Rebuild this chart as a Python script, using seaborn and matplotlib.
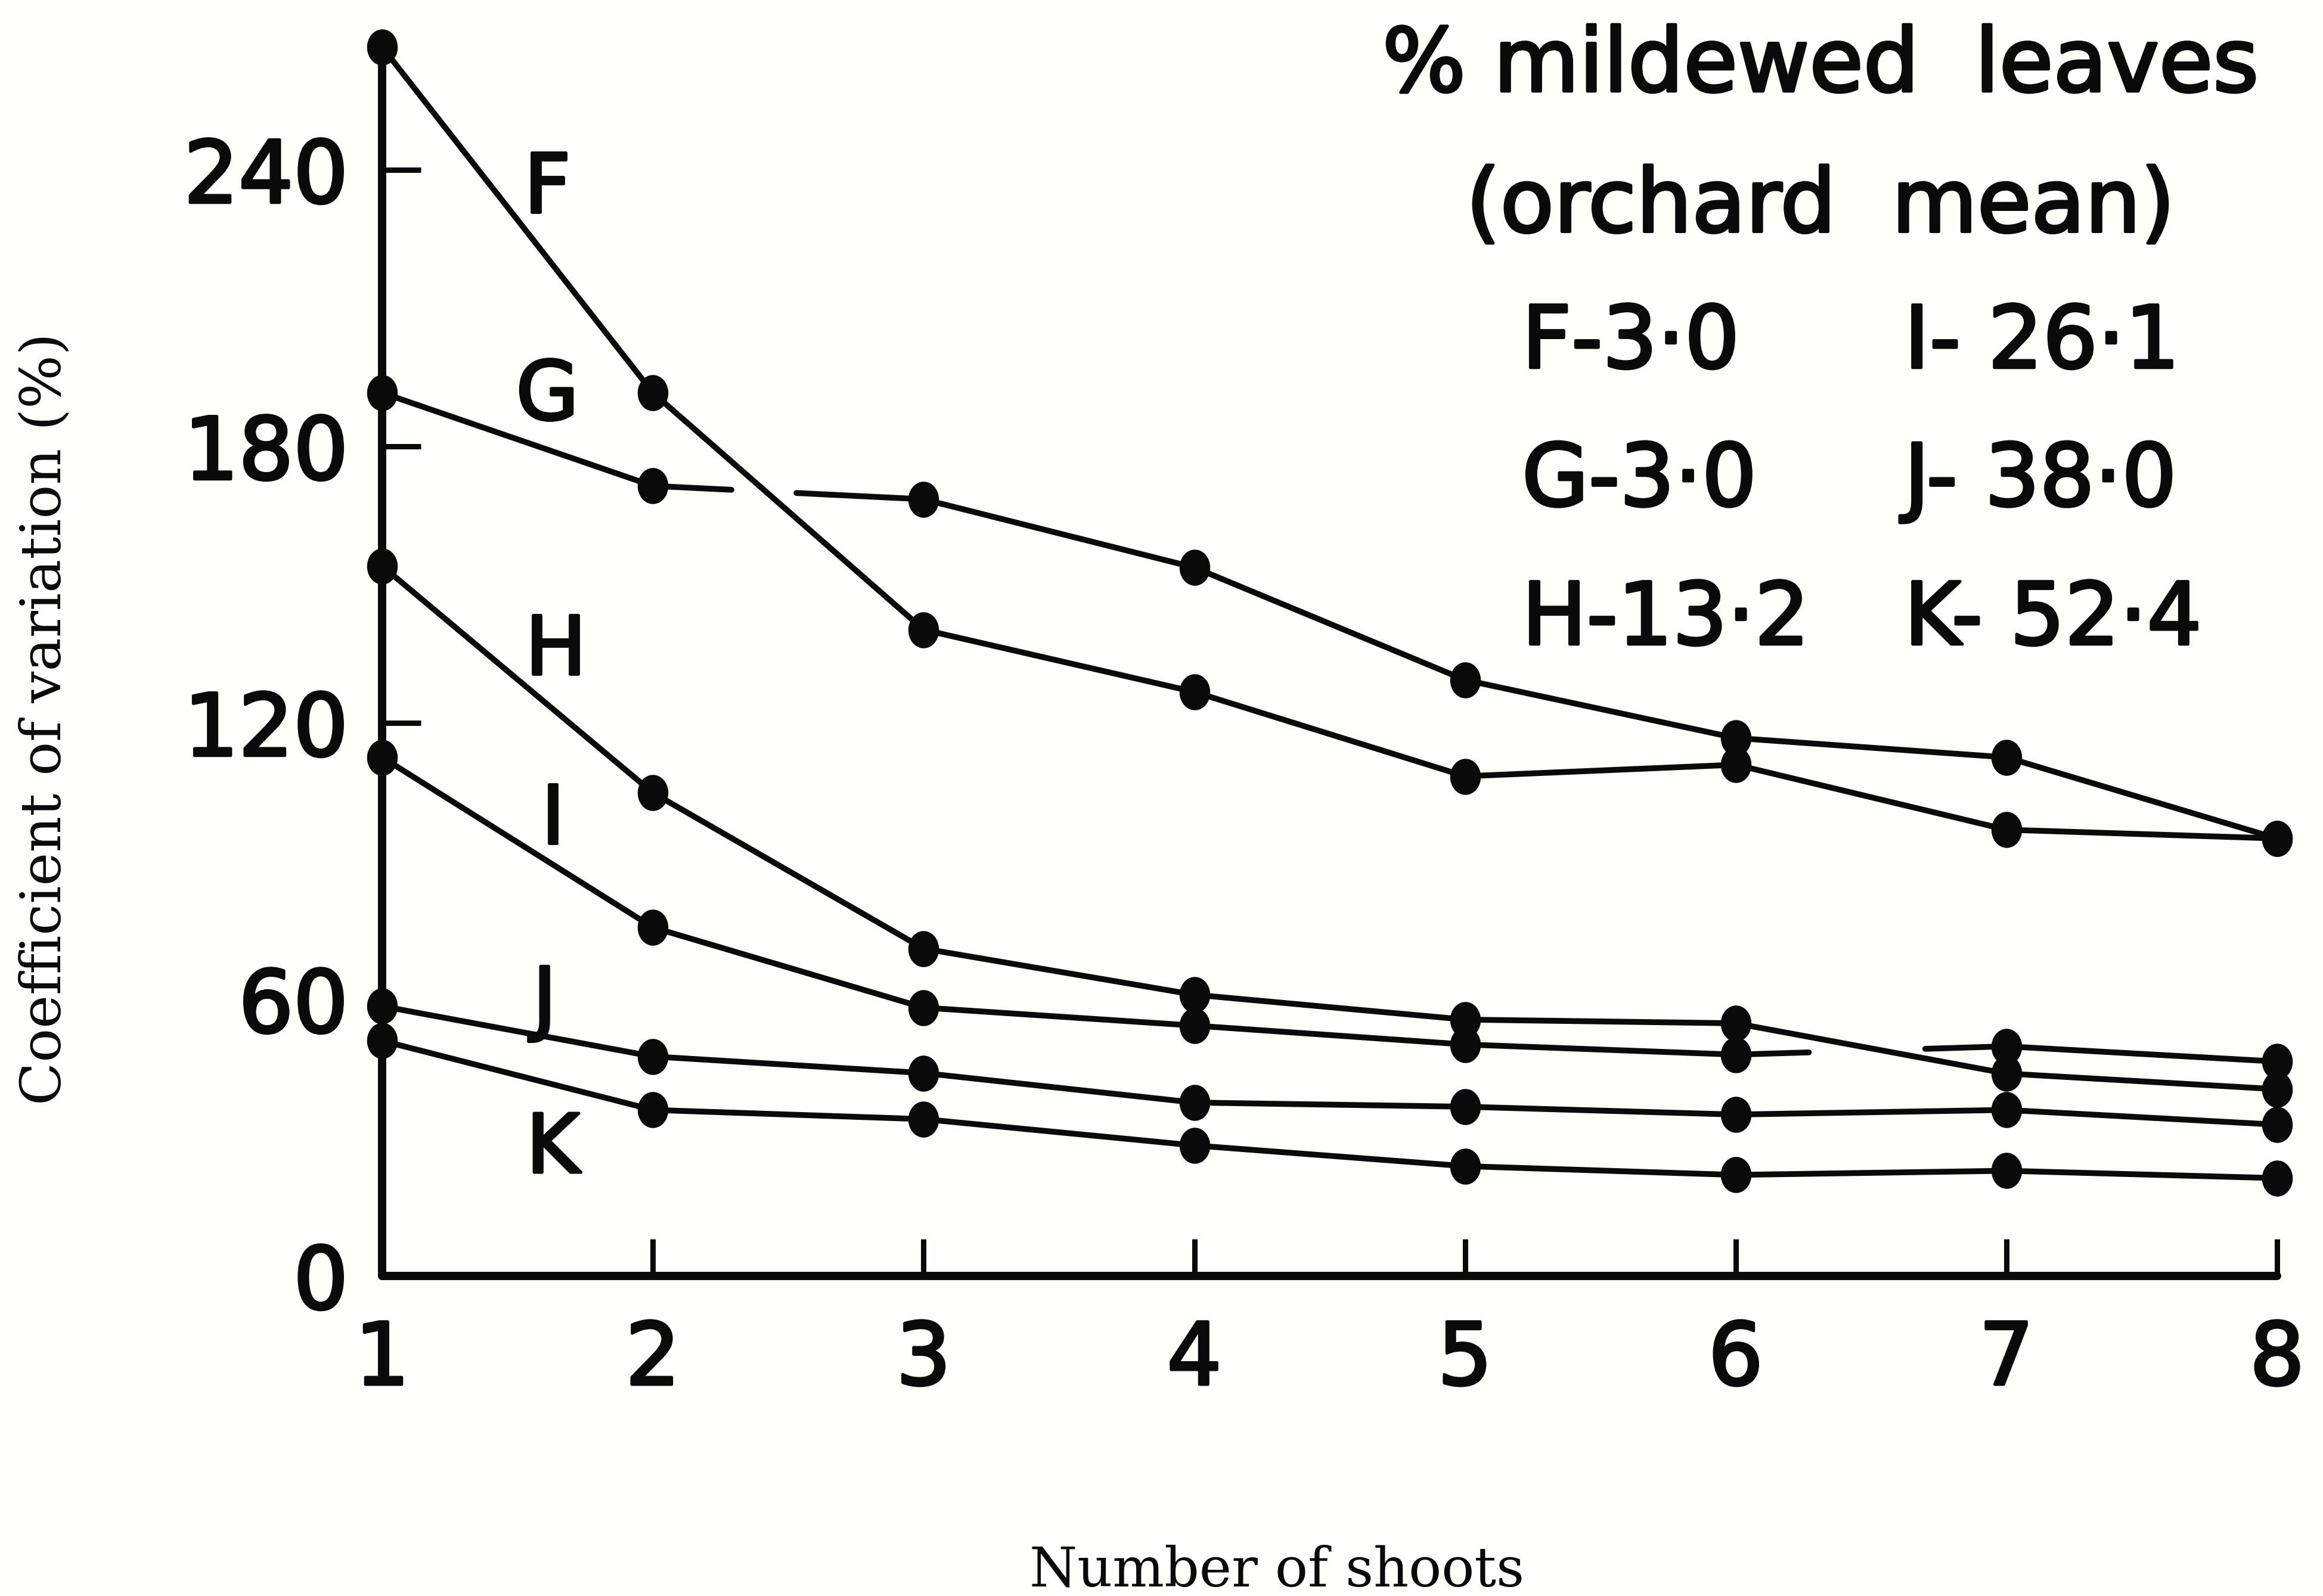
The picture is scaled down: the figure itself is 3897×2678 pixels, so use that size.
import numpy as np
import pandas as pd
import matplotlib
matplotlib.use("Agg")
import matplotlib.pyplot as plt
import matplotlib.patheffects as pe
from matplotlib.path import Path
import seaborn as sns

# ---------------- data ----------------
shoots = [1, 2, 3, 4, 5, 6, 7, 8]
cv_F = [266.6, 191.6, 140.2, 126.7, 108.4, 110.9, 96.8, 94.9]
cv_G = [191.6, 171.4, 168.5, 153.7, 129.3, 116.7, 112.5, 94.9]
cv_H = [154.0, 104.8, 71.0, 61.0, 55.6, 54.8, 43.9, 40.5]
cv_I = [112.5, 75.6, 58.2, 54.3, 50.2, 48.0, 49.8, 46.5]
cv_J = [58.5, 47.6, 44.0, 37.6, 36.7, 35.0, 36.0, 32.8]
cv_K = [51.0, 36.0, 34.0, 28.3, 23.8, 21.9, 22.8, 21.2]
orchards = ["F", "G", "H", "I", "J", "K"]
mildew_means = ["3·0", "3·0", "13·2", "26·1", "38·0", "52·4"]
y_ticks = [0, 60, 120, 180, 240]
x_ticks = shoots

series = dict(zip(orchards, [cv_F, cv_G, cv_H, cv_I, cv_J, cv_K]))

# ---------------- style ----------------
sns.set_theme(style="white")
plt.rcParams["font.family"] = ["DejaVu Sans"]
BG = "#fefefa"
INK = "#0a0a0a"
thick = [pe.withStroke(linewidth=3.5, foreground=INK)]

fig = plt.figure(figsize=(38.98, 26.78), dpi=100, facecolor=BG)
ax = fig.add_axes([0.1645, 0.2006, 0.8155, 0.7739])
ax.set_facecolor(BG)

# line breaks where another curve passes over (segment index, start, end fraction)
gaps = {"G": (1, 0.29, 0.53), "I": (5, 0.27, 0.70)}

for name in orchards:
    xs = np.array(shoots, float)
    ys = np.array(series[name], float)
    pieces = []
    if name in gaps:
        i, t0, t1 = gaps[name]
        xa = xs[i] + t0 * (xs[i + 1] - xs[i]); ya = ys[i] + t0 * (ys[i + 1] - ys[i])
        xb = xs[i] + t1 * (xs[i + 1] - xs[i]); yb = ys[i] + t1 * (ys[i + 1] - ys[i])
        pieces.append((np.r_[xs[:i + 1], xa], np.r_[ys[:i + 1], ya]))
        pieces.append((np.r_[xb, xs[i + 1:]], np.r_[yb, ys[i + 1:]]))
    else:
        pieces.append((xs, ys))
    for px, py in pieces:
        sns.lineplot(x=px, y=py, ax=ax, color=INK, lw=7, sort=False,
                     estimator=None, solid_capstyle="round", zorder=3)

long_df = pd.DataFrame(
    [(s, v, n) for n in orchards for s, v in zip(shoots, series[n])],
    columns=["shoots", "cv", "orchard"])

t = np.linspace(0, 2 * np.pi, 80)
ellipse = Path(np.c_[0.85 * np.cos(t), np.sin(t)], closed=True)
sns.scatterplot(data=long_df, x="shoots", y="cv", ax=ax, color=INK,
                marker=ellipse, s=1900, edgecolor=INK, linewidth=0,
                zorder=5, clip_on=False, legend=False)

# curve letters
label_pos = {"F": (1.61, 235.7), "G": (1.61, 190.7), "H": (1.64, 135.4),
             "I": (1.63, 98.7), "J": (1.60, 59.2), "K": (1.63, 27.3)}
for n in orchards:
    x, y = label_pos[n]
    ax.text(x, y, n, fontsize=98, ha="center", va="center", color=INK,
            path_effects=thick)

# axes
ax.set_xlim(1, 8)
ax.set_ylim(0, 268)
for side in ["top", "right"]:
    ax.spines[side].set_visible(False)
for side in ["left", "bottom"]:
    ax.spines[side].set_linewidth(10)
    ax.spines[side].set_color(INK)
    ax.spines[side].set_capstyle("round")

ax.set_xticks(x_ticks)
ax.set_xticklabels([str(v) for v in x_ticks])
ax.set_yticks(y_ticks)
ax.set_yticklabels([str(v) for v in y_ticks])
ax.tick_params(axis="x", direction="in", length=45, width=6.5, color=INK,
               labelsize=104, pad=52, labelcolor=INK, bottom=True)
ax.tick_params(axis="y", direction="in", length=47, width=6.5, color=INK,
               labelsize=104, pad=41, labelcolor=INK, left=True)
ax.xaxis.get_major_ticks()[0].tick1line.set_visible(False)
ax.yaxis.get_major_ticks()[0].tick1line.set_visible(False)
ax.yaxis.get_major_ticks()[1].tick1line.set_visible(False)
for lab in ax.get_xticklabels() + ax.get_yticklabels():
    lab.set_path_effects(thick)
ax.grid(False)

ax.set_xlabel("Number of shoots", fontsize=66, family="DejaVu Serif", color=INK)
ax.xaxis.set_label_coords(0.472, -0.239)
ax.xaxis.label.set_va("center")
ax.set_ylabel("Coefficient of variation (%)", fontsize=68, family="DejaVu Serif",
              color=INK)
ax.yaxis.set_label_coords(-0.178, 0.451)
ax.yaxis.label.set_va("center")

# legend block
fig.text(0.7835, 0.958, "% mildewed  leaves", fontsize=106, ha="center",
         va="center", color=INK, path_effects=thick)
fig.text(0.7835, 0.870, "(orchard  mean)", fontsize=106, ha="center",
         va="center", color=INK, path_effects=thick)
rows_y = [0.7846, 0.6982, 0.6113]
for k in range(3):
    fig.text(0.655, rows_y[k], f"{orchards[k]}-{mildew_means[k]}", fontsize=104,
             ha="left", va="center", color=INK, path_effects=thick)
    fig.text(0.8195, rows_y[k], f"{orchards[k + 3]}- {mildew_means[k + 3]}",
             fontsize=104, ha="left", va="center", color=INK, path_effects=thick)

fig.savefig("out.png", dpi=100, facecolor=BG)
